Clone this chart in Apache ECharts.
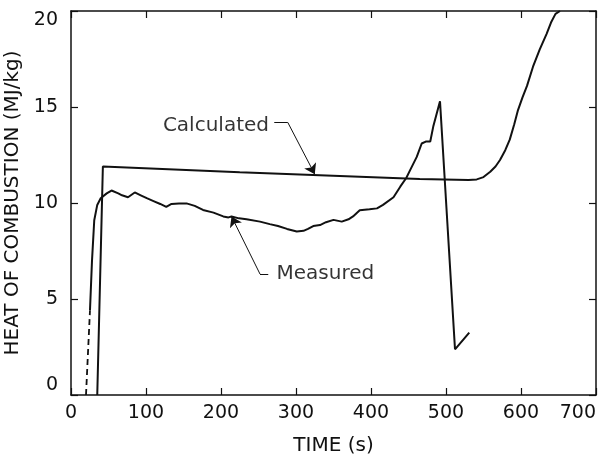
<!DOCTYPE html>
<html>
<head>
<meta charset="utf-8">
<script src="https://cdn.jsdelivr.net/npm/echarts@6/dist/echarts.min.js"></script>
<style>html,body{margin:0;padding:0;background:#fff}#c{width:605px;height:462px}</style>
</head>
<body>
<div id="c"></div>
<script>
var xTicks = [0, 100, 200, 300, 400, 500, 600, 700];
var yTicks = [0, 5, 10, 15, 20];
var measuredDashed = [[20, 0], [25.3, 4.4]];
var measured = [[25.3,4.4],[28,7],[31,9.1],[35,9.9],[39.6,10.25],[47.6,10.5],[54,10.65],[63,10.5],[68,10.4],[76,10.3],[85,10.55],[93,10.4],[101,10.25],[110,10.1],[119,9.95],[127,9.8],[134,9.95],[144,9.98],[154,9.98],[165,9.85],[176,9.64],[190,9.5],[203,9.3],[210,9.25],[214,9.3],[224,9.2],[234,9.15],[252,9.03],[265,8.9],[276,8.8],[288,8.65],[301,8.52],[310,8.55],[316,8.65],[323,8.8],[332,8.85],[340,9.0],[350,9.12],[361,9.03],[370,9.15],[376,9.3],[385,9.62],[398,9.67],[408,9.72],[416,9.9],[430,10.3],[439,10.85],[447,11.3],[452,11.7],[461,12.4],[467.6,13.1],[473,13.2],[479,13.2],[483,13.98],[492,15.3],[512,2.38],[531,3.25]];
var calculated = [[35,0],[42.5,11.9],[225,11.6],[465,11.25],[530,11.2],[541,11.23],[550,11.35],[559,11.63],[566,11.9],[572,12.24],[579,12.75],[585,13.3],[591,14.1],[596,14.84],[602,15.5],[608,16.1],[616,17.1],[625,18.0],[634,18.8],[640,19.4],[646,19.85],[652,20.0]];
// leader lines: plain segment, then arrow segment
var calcLeaderPlain = [[271,14.2],[289,14.2]];
var calcLeaderArrow = [[289,14.2],[325,11.5]];
var measLeaderPlain = [[263,6.3],[252,6.3]];
var measLeaderArrow = [[252,6.3],[214,9.3]];
var calcText = [264, 14.0, 'Calculated'];
var measText = [274, 6.3, 'Measured'];

var font = '"DejaVu Sans", Verdana, sans-serif';
var ink = '#111';
var chart = echarts.init(document.getElementById('c'), null, {renderer: 'canvas'});
function axisCommon() {
  return {
    axisLine: {show: true, onZero: false, lineStyle: {color: ink, width: 1.5}},
    axisTick: {show: true, inside: true, length: 7, lineStyle: {color: ink, width: 1.2}},
    splitLine: {show: false}
  };
}
var xBase = {type: 'value', min: 0, max: 700, interval: 100};
var yBase = {type: 'value', min: 0, max: 20, interval: 5};
chart.setOption({
  animation: false,
  backgroundColor: '#fff',
  grid: {left: 71, right: 9, top: 11, bottom: 67, containLabel: false, outerBoundsMode: 'none'},
  xAxis: [
    Object.assign({}, xBase, axisCommon(), {
      position: 'bottom',
      name: 'TIME (s)', nameLocation: 'middle', nameGap: 41,
      nameTextStyle: {color: ink, fontFamily: font, fontSize: 20},
      axisLabel: {color: ink, fontFamily: font, fontSize: 19, margin: 9,
        alignMaxLabel: 'right',
        formatter: function (v) { return xTicks.indexOf(v) >= 0 ? String(v) : ''; }}
    }),
    Object.assign({}, xBase, axisCommon(), {position: 'top', axisLabel: {show: false}})
  ],
  yAxis: [
    Object.assign({}, yBase, axisCommon(), {
      position: 'left',
      name: 'HEAT OF COMBUSTION (MJ/kg)', nameLocation: 'middle', nameGap: 39,
      nameTextStyle: {color: ink, fontFamily: font, fontSize: 20},
      axisLabel: {color: ink, fontFamily: font, fontSize: 19, margin: 13,
        verticalAlignMaxLabel: 'top', verticalAlignMinLabel: 'bottom',
        formatter: function (v) { return yTicks.indexOf(v) >= 0 ? String(v) : ''; }}
    }),
    Object.assign({}, yBase, axisCommon(), {position: 'right', axisLabel: {show: false}})
  ],
  series: [
    {type: 'line', data: measuredDashed, showSymbol: false, symbol: 'none',
      lineStyle: {color: ink, width: 1.8, type: [6, 4]}},
    {type: 'line', data: measured, showSymbol: false, symbol: 'none',
      lineStyle: {color: ink, width: 2}},
    {type: 'line', data: calculated, showSymbol: false, symbol: 'none',
      lineStyle: {color: ink, width: 2}},
    {type: 'lines', coordinateSystem: 'cartesian2d',
      symbol: 'none',
      lineStyle: {color: ink, width: 1, opacity: 1},
      data: [{coords: calcLeaderPlain}, {coords: measLeaderPlain}]},
    {type: 'lines', coordinateSystem: 'cartesian2d',
      symbol: ['none', 'arrow'], symbolSize: [1, 10],
      lineStyle: {color: ink, width: 1, opacity: 1},
      itemStyle: {color: ink},
      data: [{coords: calcLeaderArrow}, {coords: measLeaderArrow}]},
    {type: 'scatter', symbolSize: 0,
      data: [
        {value: calcText, label: {position: 'left', distance: 0}},
        {value: measText, label: {position: 'right', distance: 0}}
      ],
      label: {show: true, color: '#000', fontFamily: font, fontSize: 20,
        formatter: function (p) { return p.value[2]; }}
    }
  ]
});
</script>
</body>
</html>
